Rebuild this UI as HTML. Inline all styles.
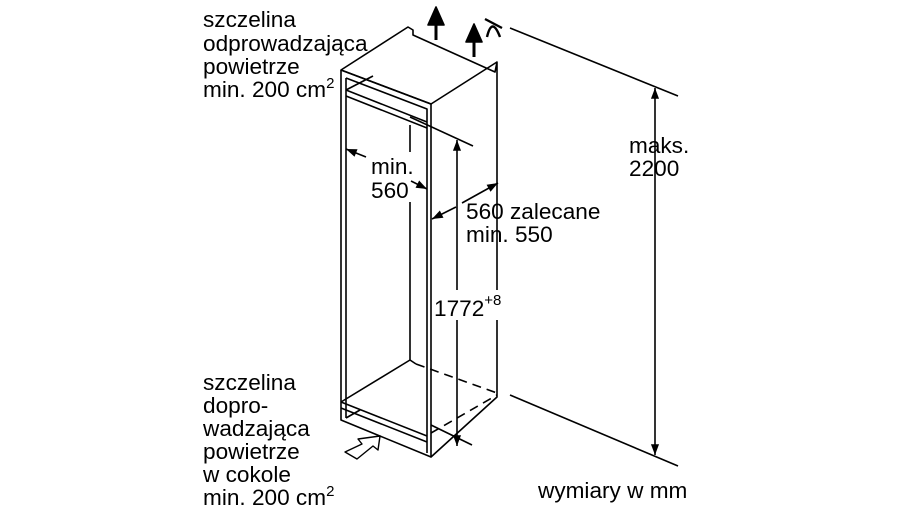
<!DOCTYPE html>
<html><head><meta charset="utf-8"><style>
html,body{margin:0;padding:0;background:#fff;}
svg{display:block}
text{font-family:"Liberation Sans",sans-serif;font-size:22.6px;fill:#000}
</style></head><body>
<svg width="900" height="506" viewBox="0 0 900 506" xmlns="http://www.w3.org/2000/svg">
<defs>
<marker id="a" viewBox="0 0 12 10" refX="12" refY="5" markerWidth="12" markerHeight="9" orient="auto-start-reverse" markerUnits="userSpaceOnUse"><path d="M0,0.5 L12,5 L0,9.5 z" fill="#000"/></marker>
</defs>
<g fill="none" stroke="#000" stroke-width="1.6" stroke-linejoin="round">
<path d="M341,70 L408,27 L413,30 L413,35 L495,72 L497,62 L497,397 L431,457 L431,104 Z" fill="#fff"/>
<path d="M341,70 L431,104 L497,62"/>
<path d="M341,70 L341,420 L431,457"/>
<path d="M346,78 L346,418"/>
<path d="M346,78 L427,109 L427,453"/>
<path d="M346,90 L427,122"/>
<path d="M346,96 L427,128"/>
<path d="M346,90 L373,76"/>
<path d="M410,125 L410,360 L416,364"/>
<path d="M341,402 L410,360"/>
<path d="M341,402 L427,436"/>
<path d="M341,408 L427,442"/>
<path d="M346,418 L360,410"/>
<path d="M416,364 L497,393" stroke-dasharray="9,6"/>
<path d="M431,433 L497,395" stroke-dasharray="9,6"/>
<path d="M510,28 L678,96"/>
<path d="M510,395 L678,466"/>
<path d="M655,88 L655,455" marker-start="url(#a)" marker-end="url(#a)"/>
<path d="M410,117 L473,146"/>
<path d="M431,425 L472,445"/>
<path d="M457,140 L457,446" marker-start="url(#a)" marker-end="url(#a)"/>
</g>
<rect x="368" y="152" width="48" height="50" fill="#fff"/>
<rect x="434" y="290" width="64" height="30" fill="#fff"/>
<g fill="none" stroke="#000" stroke-width="1.6" stroke-linejoin="round">
<path d="M366,157 L346,149" marker-end="url(#a)"/>
<path d="M411,181 L427,189" marker-end="url(#a)"/>
<path d="M462,203 L498,183" marker-end="url(#a)"/>
<path d="M456,207 L432,219" marker-end="url(#a)"/>
<path d="M436,40 L436,20" stroke-width="3"/>
<path d="M436,7 L428,25 L444,25 Z" fill="#000"/>
<path d="M474,57 L474,38" stroke-width="3"/>
<path d="M474,24 L466,42 L482,42 Z" fill="#000"/>
<path d="M485,19 L502,28" stroke-width="2.4"/>
<path d="M487,37 Q492,16 500,37" stroke-width="2.4"/>
<path d="M345,452 L362,444 L358,439 L380,436 L378,450 L373,446 L357,459 Z" fill="#fff" stroke-width="1.4"/>
</g>
<text x="203" y="27">szczelina</text>
<text x="203" y="51">odprowadzająca</text>
<text x="203" y="74">powietrze</text>
<text x="203" y="97">min. 200 cm<tspan font-size="15" dy="-9">2</tspan></text>
<text x="203" y="390">szczelina</text>
<text x="203" y="413">dopro-</text>
<text x="203" y="436">wadzająca</text>
<text x="203" y="459">powietrze</text>
<text x="203" y="482">w cokole</text>
<text x="203" y="505">min. 200 cm<tspan font-size="15" dy="-9">2</tspan></text>
<text x="371" y="174">min.</text>
<text x="371" y="198">560</text>
<text x="466" y="219">560 zalecane</text>
<text x="466" y="242">min. 550</text>
<text x="434" y="316">1772<tspan font-size="15" dy="-11">+8</tspan></text>
<text x="629" y="153">maks.</text>
<text x="629" y="176">2200</text>
<text x="538" y="498">wymiary w mm</text>
</svg>
</body></html>
